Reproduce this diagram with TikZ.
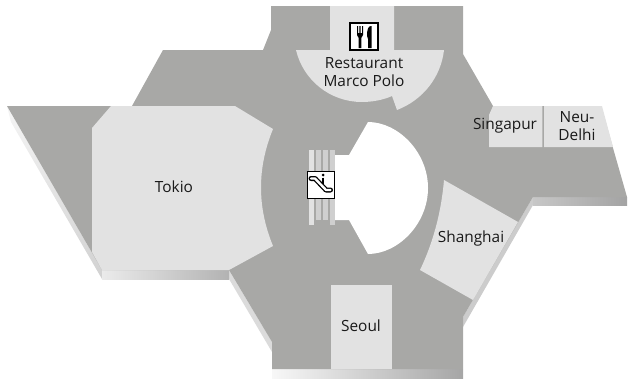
\documentclass[tikz,border=0pt]{standalone}
\usepackage{fontspec}
\setmainfont{Open Sans}
\definecolor{floorgray}{HTML}{A8A8A6}
\definecolor{roomgray}{HTML}{E2E2E2}
\definecolor{stripmid}{HTML}{CFCFCF}
\tikzset{
  floorshape/.style={fill=floorgray,draw=none},
  room/.style={fill=roomgray,draw=none},
  label/.style={font=\fontsize{15.4}{18}\selectfont,text=black!90,align=center,inner sep=0pt},
  iconbox/.style={fill=white,draw=black,line width=1.8pt},
  glyph/.style={fill=black,draw=none},
}
\begin{document}
\begin{tikzpicture}[x=1pt,y=-1pt]
\useasboundingbox (0,0) rectangle (628,380);
% side shadows
\shade[top color=black!4,bottom color=black!18] (7,106) -- (102,270) -- (102,279) -- (11,122) -- cycle;
\fill[black!14] (229,270) -- (272,342) -- (272,352) -- (229,279) -- cycle;
\fill[black!20] (533,197) -- (533,205) -- (463,327) -- (463,317) -- cycle;
\shade[left color=black!8,right color=black!30] (102,270) rectangle (229,279);
\shade[left color=black!3,right color=black!35] (272,369) rectangle (463,378);
\shade[left color=black!22,middle color=black!14,right color=black!36] (533,197) rectangle (627,205);
% floor
\path[floorshape] (271,6) -- (463,6) -- (463,54) -- (493,106) -- (601,106) -- (627,197)
  -- (533,197) -- (463,317) -- (463,369) -- (272,369) -- (272,342) -- (229,270)
  -- (102,270) -- (7,106) -- (132,106) -- (163,50) -- (263,50) -- (271,30) -- cycle;
% rooms
\path[room] (111,106) -- (235,106) -- (273,129) .. controls (257,168) and (257,207) .. (273,246)
  -- (229,270) -- (102,270) -- (92,252) -- (92,128) -- cycle;
\path[room] (330,6) -- (394,6) -- (394,50) -- (444,50) .. controls (441,77) and (423,100) .. (397,110)
  -- (392,96) .. controls (383,100) and (372,102) .. (362,102)
  .. controls (330,102) and (303,80) .. (296,50) -- (330,50) -- cycle;
\path[room] (493,106) -- (542.3,106) -- (542.3,147) -- (489,147) -- (489,115) -- cycle;
\path[room] (544,106) -- (602,106) -- (613,147) -- (544,147) -- cycle;
\path[room] (444,180) -- (518,222) -- (473,300) -- (420,270) .. controls (432,245) and (441,215) .. cycle;
\path[room] (331,285) rectangle (392,369);
% hub
\fill[white] (368,122) .. controls (398,122) and (428,152) .. (428,188)
  .. controls (428,224) and (398,254) .. (368,254)
  -- (349,220) -- (335,220) -- (335,155) -- (349,155) -- cycle;
% escalator strips
\fill[roomgray] (309,150) rectangle (314,225);
\fill[stripmid] (316,150) rectangle (321,220);
\fill[stripmid] (323,150) rectangle (328,220);
\fill[stripmid] (330,150) rectangle (335,225);
% escalator icon
\node[iconbox,minimum width=27pt,minimum height=27pt,inner sep=0pt] (esc) at (321,185) {};
\draw[black,line width=5pt,line join=round,line cap=round] (311,178.5) -- (315,178.5) -- (326,190) -- (330.5,190);
\draw[white,line width=2.4pt,line join=round,line cap=round] (311,178.5) -- (315,178.5) -- (326,190) -- (330.5,190);
\fill[black] (323,175) circle (1.5);
\draw[black,line width=1.7pt] (323,177.5) -- (323,184);
% restaurant icon
\node[iconbox,minimum width=28pt,minimum height=27pt,inner sep=0pt] (food) at (364,36.5) {};
\path[glyph] (357,26) -- (358,26) -- (358,33) -- (359.4,33) -- (359.4,26) -- (360.6,26) -- (360.6,33) -- (362,33) -- (362,26) -- (363,26)
  -- (363,35) -- (361.3,38) -- (361.3,48) -- (358.7,48) -- (358.7,38) -- (357,35) -- cycle;
\path[glyph] (368,48) -- (368,39) -- (367,36) .. controls (367,30) and (368,26) .. (371,26) -- (371.5,26) -- (371.5,48) -- cycle;
% labels
\node[label] (tokio) at (174,187) {Tokio};
\node[label] (marco) at (364,72) {Restaurant\\Marco Polo};
\node[label] (singapur) at (505,126) {Singapur};
\node[label] (delhi) at (577,126) {Neu-\\Delhi};
\node[label] (shanghai) at (471,238) {Shanghai};
\node[label] (seoul) at (361,326) {Seoul};
\end{tikzpicture}
\end{document}
